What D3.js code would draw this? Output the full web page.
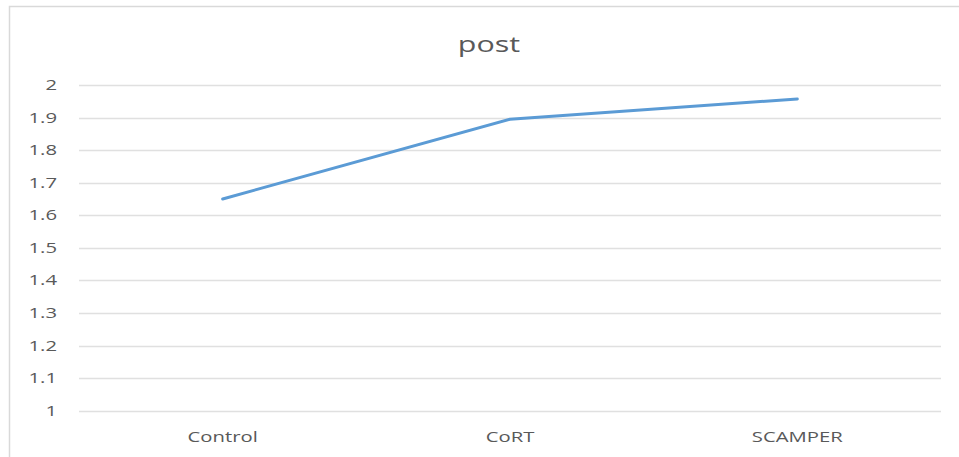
<!DOCTYPE html>
<html><head><meta charset="utf-8">
<script src="https://cdn.jsdelivr.net/npm/d3@7"></script>
<style>html,body{margin:0;padding:0;background:#fff;}svg{display:block;}</style>
</head><body>
<script>
const categories = ["Control", "CoRT", "SCAMPER"];
const postValues = [1.65, 1.895, 1.957];
const yTicks = [1, 1.1, 1.2, 1.3, 1.4, 1.5, 1.6, 1.7, 1.8, 1.9, 2];
const yTickLabels = ["1", "1.1", "1.2", "1.3", "1.4", "1.5", "1.6", "1.7", "1.8", "1.9", "2"];
const title = "post";

const W = 959, H = 457;
const SX = 1.45;
const FONT = "'Open Sans', sans-serif";
const TXT = "#595959";

const svg = d3.select("body").append("svg").attr("width", W).attr("height", H);
svg.append("rect").attr("width", W).attr("height", H).attr("fill", "#fff");
svg.append("rect").attr("x", 9.5).attr("y", 6.5).attr("width", 1200).attr("height", 1000)
  .attr("fill", "none").attr("stroke", "#d9d9d9").attr("stroke-width", 1.5);

const x = d3.scaleBand().domain(categories).range([79, 941]);
const y = d3.scaleLinear().domain([1, 2]).range([410.7, 85]);

// gridlines
svg.append("g").selectAll("line").data(yTicks).join("line")
  .attr("x1", 79).attr("x2", 941)
  .attr("y1", d => Math.round(y(d)) + 0.5).attr("y2", d => Math.round(y(d)) + 0.5)
  .attr("stroke", "#e0e0e0").attr("stroke-width", 1.3);

// y tick labels
svg.append("g").selectAll("text").data(yTicks).join("text")
  .attr("transform", d => `translate(57,${y(d) + 5}) scale(${SX},1)`)
  .attr("text-anchor", "end")
  .attr("font-family", FONT).attr("font-size", 14).attr("font-weight", 500).attr("fill", TXT)
  .text((d, i) => yTickLabels[i]);

// x category labels
svg.append("g").selectAll("text").data(categories).join("text")
  .attr("transform", d => `translate(${x(d) + x.bandwidth() / 2},442) scale(${SX},1)`)
  .attr("text-anchor", "middle")
  .attr("font-family", FONT).attr("font-size", 14).attr("font-weight", 500).attr("fill", TXT)
  .text(d => d);

// title
svg.append("text")
  .attr("transform", `translate(489,52) scale(${SX},1)`)
  .attr("text-anchor", "middle")
  .attr("font-family", FONT).attr("font-size", 21).attr("font-weight", 500).attr("fill", TXT)
  .text(title);

// line
const line = d3.line()
  .x((d, i) => x(categories[i]) + x.bandwidth() / 2)
  .y(d => y(d));
svg.append("path").datum(postValues)
  .attr("d", line)
  .attr("fill", "none").attr("stroke", "#5b9bd5").attr("stroke-width", 3)
  .attr("stroke-linejoin", "round").attr("stroke-linecap", "round");
</script>
</body></html>
